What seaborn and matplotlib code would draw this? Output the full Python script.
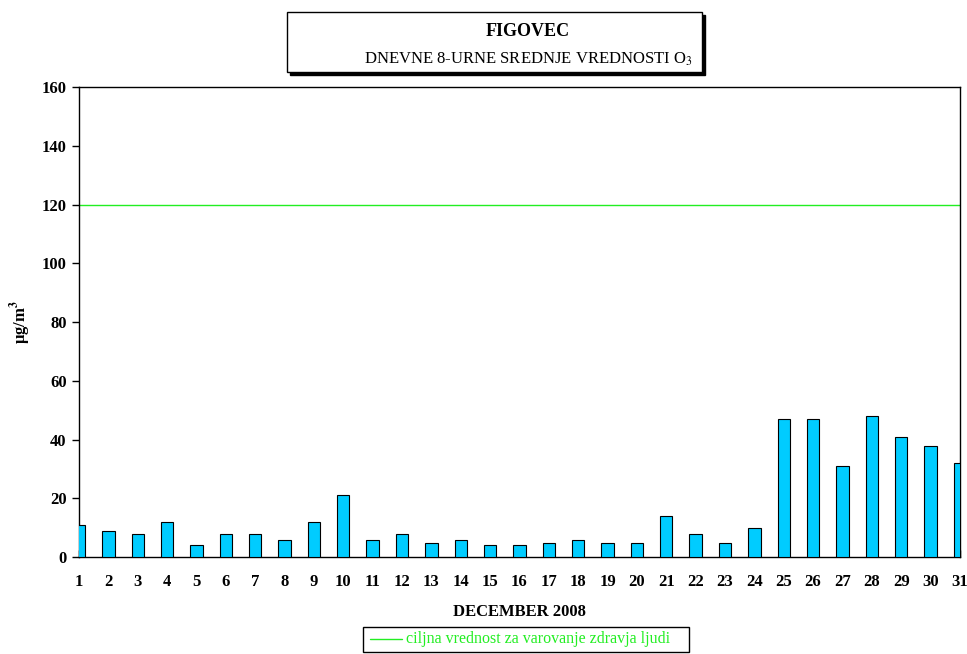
import matplotlib.pyplot as plt
import seaborn as sns
from matplotlib.patches import Rectangle
from matplotlib.lines import Line2D

days = list(range(1, 32))
o3 = [11, 9, 8, 12, 4, 8, 8, 6, 12, 21, 6, 8, 5, 6, 4, 4, 5, 6, 5, 5,
      14, 8, 5, 10, 47, 47, 31, 48, 41, 38, 32]
target = 120

sns.set_theme(style="white")
plt.rcParams["font.family"] = ["Liberation Serif", "DejaVu Serif"]
plt.rcParams["mathtext.fontset"] = "stix"
plt.rcParams["text.color"] = "black"
plt.rcParams["axes.labelcolor"] = "black"
plt.rcParams["xtick.color"] = "black"
plt.rcParams["ytick.color"] = "black"

green = "#22ee22"

fig = plt.figure(figsize=(9.67, 6.54), dpi=100)
ax = fig.add_axes([0.0817, 0.148, 0.911, 0.719])

ax.bar(days, o3, width=0.42, color="#00ccff", edgecolor="black", linewidth=0.8, zorder=3)
ax.axhline(target, color=green, linewidth=1, zorder=2)

ax.set_xlim(1, 31)
ax.set_ylim(0, 160)
ax.set_xticks(days)
ax.set_yticks(range(0, 161, 20))
ax.tick_params(axis="y", direction="out", length=5, width=1, left=True, labelsize=12, pad=4)
ax.tick_params(axis="x", direction="in", length=5, width=1, bottom=True, labelsize=12, pad=12)
for lab in ax.get_xticklabels() + ax.get_yticklabels():
    lab.set_fontweight("bold")
for s in ax.spines.values():
    s.set_color("black")
    s.set_linewidth(1)

ax.set_xlabel("DECEMBER 2008", fontsize=12, fontweight="bold", labelpad=10)
ax.set_ylabel(r"μg/m$^\mathbf{3}$", fontsize=12, fontweight="bold", labelpad=6)

# title box with shadow
fig.patches.append(Rectangle((290 / 967, 1 - 75 / 654), 415 / 967, 60 / 654,
                             transform=fig.transFigure, facecolor="black", edgecolor="black"))
fig.patches.append(Rectangle((287 / 967, 1 - 72 / 654), 415 / 967, 60 / 654,
                             transform=fig.transFigure, facecolor="white", edgecolor="black", linewidth=1))
fig.text(528 / 967, 1 - 31 / 654, "FIGOVEC", ha="center", va="center", fontsize=13, fontweight="bold")
fig.text(528 / 967, 1 - 59 / 654, r"DNEVNE 8-URNE SREDNJE VREDNOSTI O$_3$",
         ha="center", va="center", fontsize=12)

# legend box
fig.patches.append(Rectangle((363 / 967, 1 - 652 / 654), 326 / 967, 25 / 654,
                             transform=fig.transFigure, facecolor="white", edgecolor="black", linewidth=1))
fig.lines.append(Line2D([370 / 967, 402 / 967], [1 - 639 / 654] * 2, transform=fig.transFigure,
                        color=green, linewidth=1))
fig.text(406 / 967, 1 - 639 / 654, "ciljna vrednost za varovanje zdravja ljudi",
         ha="left", va="center", fontsize=11.5, color=green)

fig.savefig("out.png", dpi=100)
